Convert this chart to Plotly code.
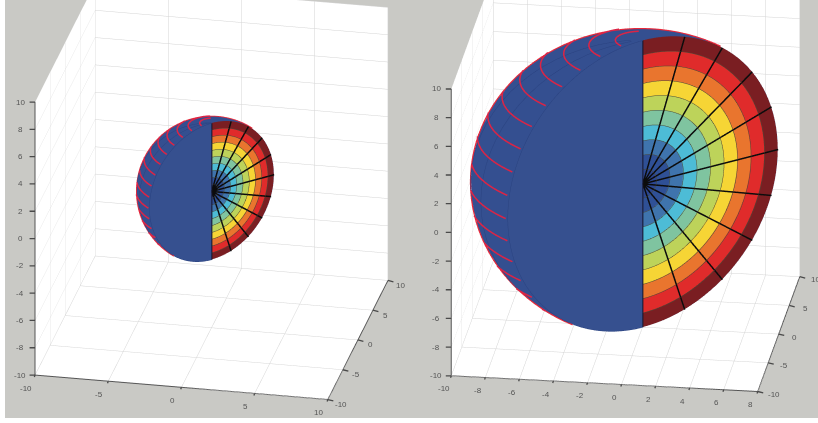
import numpy as np
import plotly.graph_objects as go

# Ring colours from the centre of the disc to its rim
RING_COLORS = ["#2b4590", "#2f5096", "#3f74ad", "#4dbcd6", "#7fc4a0",
               "#bdd35a", "#f6d535", "#e9752e", "#e02b2b", "#7a1e22"]
DISC_BLUE = "#36508f"
DOME_BLUE = "#344f90"
GRID_DARK = "#2a4280"
RED = "#dc2445"
BG = "#c9c9c5"

RADIAL_DEG = [18, 36, 54, 72, 90, 108, 126, 144, 162]
LATITUDE_DEG = [9, 18, 27, 36, 45, 54, 63, 72, 81, 90, 99, 108, 117, 126, 135, 144]

LEFT = dict(R=5, xr=[-10, 10], xt=[-10, -5, 0, 5, 10], yt=[-10, -5, 0, 5, 10],
            zt=list(range(-10, 11, 2)), az=11.6, el=24.0, dist=1.397, cz=-0.093, aspect=1.43,
            xs=(-9, 13), ys=(13, 5), zs=(-15, 0))
RIGHT = dict(R=10, xr=[-10, 8], xt=list(range(-10, 9, 2)), yt=[-10, -5, 0, 5, 10],
             zt=list(range(-10, 11, 2)), az=7.8, el=22.0, dist=1.388, cz=-0.135, aspect=1.48,
             xs=(-7, 13), ys=(16, 3), zs=(-15, 0))

W, H = 818, 423
BOTTOM = 418
U = np.array([1, 1, 0]) / np.sqrt(2)
K = np.array([0, 0, 1.0])
NORMAL = np.array([1, -1, 0]) / np.sqrt(2)   # faces the viewer
DOME = -NORMAL


def disc_pt(r, t, u):
    return r * (u * np.sin(t) + K * np.cos(t))


def add_mesh(fig, verts, faces, colors, scene):
    v = np.array(verts)
    f = np.array(faces)
    fig.add_trace(go.Mesh3d(x=v[:, 0], y=v[:, 1], z=v[:, 2], i=f[:, 0], j=f[:, 1], k=f[:, 2],
                            facecolor=colors, flatshading=True, hoverinfo="skip", showscale=False,
                            lighting=dict(ambient=1, diffuse=0, specular=0, fresnel=0, roughness=1),
                            scene=scene))


def add_line(fig, pts, color, width, scene):
    p = np.array(pts)
    fig.add_trace(go.Scatter3d(x=p[:, 0], y=p[:, 1], z=p[:, 2], mode="lines",
                               line=dict(color=color, width=width), hoverinfo="skip",
                               showlegend=False, scene=scene))


def view_dir(c):
    az, el = np.radians(c["az"]), np.radians(c["el"])
    return np.array([np.sin(az) * np.cos(el), -np.cos(az) * np.cos(el), np.sin(el)])


def build(fig, c, scene, lw):
    R = c["R"]
    ts = np.radians(np.arange(0, 181, 3))
    # coloured half disc
    verts, faces, cols = [], [], []
    for i, col in enumerate(RING_COLORS):
        r0, r1 = R * i / 10, R * (i + 1) / 10
        for a, b in zip(ts[:-1], ts[1:]):
            n = len(verts)
            verts += [disc_pt(r0, a, U), disc_pt(r1, a, U), disc_pt(r1, b, U), disc_pt(r0, b, U)]
            faces += [[n, n + 1, n + 2], [n, n + 2, n + 3]]
            cols += [col, col]
    add_mesh(fig, verts, faces, cols, scene)
    # blue half disc
    verts, faces, cols = [np.zeros(3)], [], []
    for t in ts:
        verts.append(disc_pt(R, t, -U))
    for n in range(1, len(ts)):
        faces.append([0, n, n + 1])
        cols.append(DISC_BLUE)
    add_mesh(fig, verts, faces, cols, scene)
    # dome behind the disc
    verts, faces, cols = [], [], []
    lat = np.radians(np.arange(0, 181, 5))
    lon = np.radians(np.arange(0, 181, 5))
    for a in lat:
        for b in lon:
            verts.append(R * (np.sin(a) * (-U * np.cos(b) + DOME * np.sin(b)) + K * np.cos(a)))
    m = len(lon)
    for i in range(len(lat) - 1):
        for j in range(m - 1):
            q = i * m + j
            faces += [[q, q + 1, q + m + 1], [q, q + m + 1, q + m]]
            cols += [DOME_BLUE, DOME_BLUE]
    add_mesh(fig, verts, faces, cols, scene)

    lift = NORMAL * 0.04
    # thin ring borders
    for i in range(1, 10):
        r = R * i / 10
        add_line(fig, [disc_pt(r, t, U) + lift for t in ts], "#4a4a38", 1, scene)
    # radial black spokes
    for d in RADIAL_DEG:
        t = np.radians(d)
        add_line(fig, [lift, disc_pt(R, t, U) + lift], "#0c0c0c", lw, scene)
    add_line(fig, [disc_pt(R, 0, U) + lift, disc_pt(R, np.pi, U) + lift], "#14142a", 2, scene)
    # rim of the blue half disc
    add_line(fig, [disc_pt(R, t, -U) + lift for t in ts], GRID_DARK, 1, scene)

    # direction of view expressed in data units
    sx = 2 / (c["xr"][1] - c["xr"][0])
    d = view_dir(c) / np.array([sx, 0.1, 0.1])
    d = d / np.linalg.norm(d)

    # red latitude arcs on the dome, front-facing part only
    arc = np.radians(np.arange(0, 121, 3))
    for deg in LATITUDE_DEG:
        t = np.radians(deg)
        pts = [1.012 * R * (np.sin(t) * (-U * np.cos(b) + DOME * np.sin(b)) + K * np.cos(t)) for b in arc]
        pts = [v for v in pts if v @ d >= 0.1 * R]
        if len(pts) > 1:
            add_line(fig, pts, RED, 3, scene)
    # darker meridians on the dome
    for deg in (18, 36):
        b = np.radians(deg)
        pts = [1.003 * R * (np.sin(a) * (-U * np.cos(b) + DOME * np.sin(b)) + K * np.cos(a))
               for a in np.radians(np.arange(0, 181, 5))]
        add_line(fig, pts, GRID_DARK, 1, scene)

    # red outline along the silhouette
    p = np.cross(d, K); p /= np.linalg.norm(p)
    q = np.cross(d, p)
    pts = []
    for a in np.radians(np.arange(0, 361, 3)):
        v = R * 1.003 * (p * np.cos(a) + q * np.sin(a))
        if v @ DOME > -0.02 * R:
            pts.append((a, v))
    arr = [s[1] for s in pts]
    gaps = [i for i in range(1, len(pts)) if pts[i][0] - pts[i - 1][0] > 0.2]
    if gaps:
        arr = arr[gaps[0]:] + arr[:gaps[0]]
    add_line(fig, arr, "#e8283a", 2.5, scene)


def tick_notes(c):
    notes = []
    font = dict(family="Liberation Sans", size=8, color="#555555")

    def add(x, y, z, text, shift, tick):
        notes.append(dict(x=x, y=y, z=z, text=text, showarrow=False, font=font,
                          xshift=shift[0], yshift=-shift[1]))
        notes.append(dict(x=x, y=y, z=z, text=" ", showarrow=True, arrowhead=0, arrowwidth=1.3,
                          arrowcolor="#4a4a4a", ax=tick[0], ay=tick[1], standoff=0, font=font))
    for v in c["xt"]:
        add(v, -10, -10, str(v), c["xs"], (-3, 8))
    for v in c["yt"]:
        add(c["xr"][1], v, -10, str(v), c["ys"], (8, 2))
    for v in c["zt"]:
        add(c["xr"][0], -10, v, str(v), c["zs"], (-8, 0))
    return notes


def scene_layout(c, x0, x1):
    cen = np.array([0, 0, c["cz"]])
    e = view_dir(c) * c["dist"] + cen
    a = c["aspect"]
    ax = dict(showbackground=True, backgroundcolor="white", gridcolor="#d4d4d4", gridwidth=1,
              showline=True, linecolor="#555555", linewidth=2, zeroline=False,
              ticks="", tickmode="array",
              showticklabels=False, title=dict(text=""), showspikes=False)
    return dict(
        domain=dict(x=[x0 / W, x1 / W], y=[(H - BOTTOM) / H, 1]),
        bgcolor=BG,
        aspectmode="manual", aspectratio=dict(x=a, y=a, z=a),
        xaxis=dict(ax, range=c["xr"], tickvals=c["xt"]),
        yaxis=dict(ax, range=[-10, 10], tickvals=c["yt"]),
        zaxis=dict(ax, range=[-10, 10], tickvals=c["zt"]),
        annotations=tick_notes(c),
        camera=dict(eye=dict(x=e[0], y=e[1], z=e[2]), center=dict(x=0, y=0, z=c["cz"]),
                    up=dict(x=0, y=0, z=1), projection=dict(type="orthographic")),
    )


fig = go.Figure()
build(fig, LEFT, "scene", 3)
build(fig, RIGHT, "scene2", 3)
fig.update_layout(
    width=W, height=H, margin=dict(l=0, r=0, t=0, b=0), paper_bgcolor=BG, showlegend=False,
    scene=scene_layout(LEFT, 5, 418), scene2=scene_layout(RIGHT, 433, 818),
    shapes=[
        dict(type="rect", xref="paper", yref="paper", x0=0, x1=5 / W, y0=0, y1=1,
             fillcolor="white", line_width=0, layer="above"),
        dict(type="rect", xref="paper", yref="paper", x0=0, x1=1, y0=0, y1=(H - BOTTOM) / H,
             fillcolor="white", line_width=0, layer="above"),
    ],
)
fig.write_html("out.html", config=dict(displayModeBar=False),
               post_script="document.body.style.margin='0';document.body.style.overflow='hidden';")
